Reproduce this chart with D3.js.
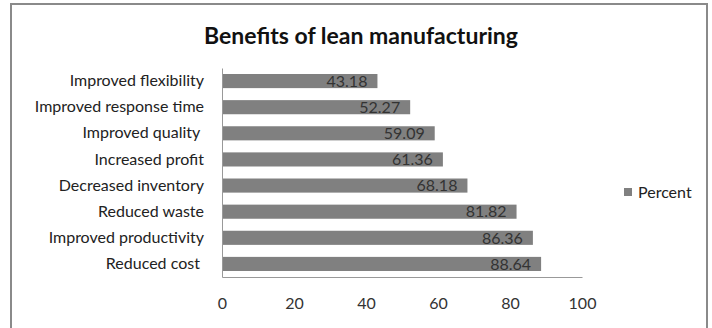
<!DOCTYPE html>
<html>
<head>
<meta charset="utf-8">
<script src="https://cdn.jsdelivr.net/npm/d3@7"></script>
<style>
  body { margin: 0; background: #fff; }
  svg text { font-family: Lato, "Open Sans", sans-serif; white-space: pre; }
</style>
</head>
<body>
<svg id="chart" width="712" height="328"></svg>
<script>
// data, top to bottom
const categories = ['Improved flexibility', 'Improved response time', 'Improved quality ', 'Increased profit',
  'Decreased inventory', 'Reduced waste', 'Improved productivity', 'Reduced cost '];
const percent = [43.18, 52.27, 59.09, 61.36, 68.18, 81.82, 86.36, 88.64];
const xTicks = [0, 20, 40, 60, 80, 100];
const title = 'Benefits of lean manufacturing';
const seriesName = 'Percent';

const svg = d3.select('#chart');

// outer frame
svg.append('rect')
  .attr('x', 11).attr('y', 4).attr('width', 696).attr('height', 340)
  .attr('fill', '#fff').attr('stroke', '#8a8a8a').attr('stroke-width', 2);

const m = { left: 222, right: 582, top: 68, bottom: 277 };

const x = d3.scaleLinear().domain([0, 100]).range([m.left, m.right]);
const y = d3.scaleBand().domain(categories).range([m.top, m.bottom]).paddingInner(0.46).paddingOuter(0.23);

svg.append('text')
  .attr('x', 361).attr('y', 44)
  .attr('text-anchor', 'middle')
  .attr('font-size', 23).attr('font-weight', 'bold').attr('fill', '#111')
  .text(title);

// bars
svg.append('g').selectAll('rect')
  .data(percent)
  .join('rect')
  .attr('x', x(0))
  .attr('y', (d, i) => y(categories[i]))
  .attr('width', d => x(d) - x(0))
  .attr('height', y.bandwidth())
  .attr('fill', '#808080');

// value labels
svg.append('g').selectAll('text')
  .data(percent)
  .join('text')
  .attr('x', d => x(d) - 10)
  .attr('y', (d, i) => y(categories[i]) + y.bandwidth() / 2)
  .attr('dy', '0.36em')
  .attr('text-anchor', 'end')
  .attr('font-size', 16).attr('fill', '#333')
  .text(d => d.toFixed(2));

// y axis
const yAxis = svg.append('g')
  .attr('transform', `translate(${m.left},0)`)
  .call(d3.axisLeft(y).tickSize(0).tickPadding(18));
yAxis.select('.domain').attr('stroke', '#999');
yAxis.selectAll('text').attr('font-size', 16).attr('fill', '#222');

// x axis
const xAxis = svg.append('g')
  .attr('transform', `translate(0,${m.bottom})`)
  .call(d3.axisBottom(x).tickValues(xTicks).tickSize(0).tickPadding(21));
xAxis.select('.domain').attr('stroke', '#999');
xAxis.selectAll('text').attr('font-size', 16).attr('fill', '#333');

// legend
const lg = svg.append('g').attr('transform', 'translate(624,188)');
lg.append('rect').attr('width', 8).attr('height', 8).attr('fill', '#808080');
lg.append('text').attr('x', 14).attr('y', 4).attr('dy', '0.36em')
  .attr('font-size', 16).attr('fill', '#222').text(seriesName);
</script>
</body>
</html>
